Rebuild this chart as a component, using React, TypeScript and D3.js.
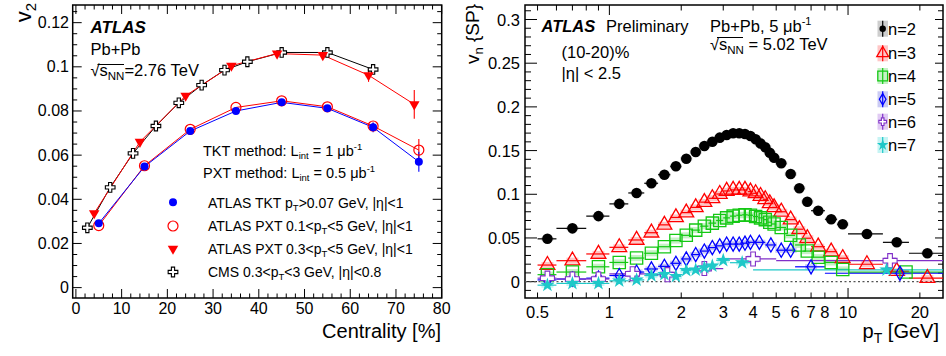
import React from 'react';
import * as d3 from 'd3';

const W = 946, H = 356;
const FONT = '"Liberation Sans", Arial, Helvetica, sans-serif';

// ---------- Left panel data ----------
const cmsCent = [2.5, 7.5, 12.5, 17.5, 22.5, 27.5, 32.5, 37.5, 45, 55, 65];
const cmsV2 = [0.0271, 0.0454, 0.0608, 0.0732, 0.0837, 0.0917, 0.0985, 0.1023, 0.1065, 0.1065, 0.0988];
const tktCent = [5, 15, 25, 35, 45, 55, 65, 75];
const tktV2 = [0.0291, 0.0548, 0.0709, 0.080, 0.0839, 0.0812, 0.0726, 0.057];
const tktErr = [0, 0, 0, 0, 0, 0, 0.0022, 0.0045];
const pxt01Cent = [5, 15, 25, 35, 45, 55, 65, 75];
const pxt01V2 = [0.0281, 0.0552, 0.0717, 0.0816, 0.0846, 0.0819, 0.0732, 0.0623];
const pxt01Err = [0, 0, 0, 0, 0, 0, 0.0015, 0.005];
const pxt03Cent = [4, 14, 24, 34, 44, 54, 64, 74];
const pxt03V2 = [0.0337, 0.066, 0.0869, 0.1005, 0.106, 0.1053, 0.0962, 0.083];
const pxt03Err = [0, 0, 0, 0, 0.001, 0.0012, 0.003, 0.0065];

const leftXTicks = [0, 10, 20, 30, 40, 50, 60, 70, 80];
const leftYTicks = [0, 0.02, 0.04, 0.06, 0.08, 0.1, 0.12];
const leftYTickLabels = ['0', '0.02', '0.04', '0.06', '0.08', '0.1', '0.12'];

// ---------- Right panel data (pT bin edges and values) ----------
const n2Edges = [0.5, 0.6, 0.8, 1.0, 1.2, 1.4, 1.6, 1.8, 2.0, 2.2, 2.4, 2.6, 2.8, 3.0, 3.2, 3.4, 3.6, 3.8, 4.0, 4.2, 4.4, 4.6, 4.8, 5.0, 5.5, 6.0, 6.5, 7.0, 8.0, 9.0, 10, 14, 18, 25];
const n2Vals = [0.049, 0.061, 0.075, 0.089, 0.1015, 0.1126, 0.1224, 0.132, 0.1407, 0.1484, 0.1553, 0.160, 0.1648, 0.1678, 0.1698, 0.1698, 0.169, 0.1667, 0.163, 0.158, 0.1538, 0.1476, 0.1419, 0.1355, 0.1232, 0.107, 0.0915, 0.0812, 0.0714, 0.0657, 0.0546, 0.045, 0.0325];
const n3Edges = n2Edges;
const n3Vals = [0.019, 0.024, 0.0317, 0.0393, 0.0477, 0.056, 0.065, 0.0735, 0.079, 0.085, 0.091, 0.0954, 0.1003, 0.1038, 0.105, 0.105, 0.105, 0.103, 0.1011, 0.098, 0.0943, 0.0897, 0.085, 0.080, 0.071, 0.060, 0.0497, 0.040, 0.0343, 0.0268, 0.0199, 0.012, 0.004];
const n4Edges = [0.5, 0.6, 0.8, 1.0, 1.2, 1.4, 1.6, 1.8, 2.0, 2.2, 2.4, 2.6, 2.8, 3.0, 3.2, 3.4, 3.6, 3.8, 4.0, 4.2, 4.4, 4.6, 4.8, 5.0, 5.5, 6.0, 6.5, 7.0, 8.0, 9.0, 10, 25];
const n4Vals = [0.008, 0.011, 0.017, 0.022, 0.027, 0.0325, 0.040, 0.047, 0.053, 0.059, 0.0635, 0.067, 0.070, 0.073, 0.075, 0.076, 0.0765, 0.076, 0.0745, 0.073, 0.071, 0.068, 0.066, 0.062, 0.053, 0.042, 0.035, 0.028, 0.022, 0.014, 0.011];
const n5Edges = [0.5, 0.6, 0.8, 1.0, 1.2, 1.4, 1.6, 1.8, 2.0, 2.2, 2.4, 2.6, 2.8, 3.0, 3.2, 3.4, 3.6, 3.8, 4.0, 4.5, 5.0, 5.5, 6.0, 8.0, 25];
const n5Vals = [0.002, 0.003, 0.004, 0.007, 0.011, 0.0145, 0.0175, 0.021, 0.026, 0.031, 0.035, 0.039, 0.041, 0.043, 0.043, 0.043, 0.044, 0.045, 0.045, 0.042, 0.036, 0.036, 0.017, 0.0096];
const n6Edges = [0.5, 0.6, 0.8, 1.0, 1.5, 2.0, 3.0, 5.0, 25];
const n6Vals = [0.004, 0.003, 0.003, 0.009, 0.008, 0.015, 0.026, 0.024];
const n7Edges = [0.5, 0.6, 0.8, 1.0, 1.2, 1.4, 1.6, 1.8, 2.0, 2.2, 2.4, 2.6, 2.8, 3.2, 4.0, 25];
const n7Vals = [-0.004, -0.002, -0.002, 0.001, 0.002, 0.007, 0.0085, 0.006, 0.013, 0.0135, 0.016, 0.018, 0.0245, 0.0217, 0.0134];

const rightXTicksLabeled = [0.5, 1, 2, 3, 4, 5, 6, 7, 8, 10, 20];
const rightXTickLabels = ['0.5', '1', '2', '3', '4', '5', '6', '7', '8', '10', '20'];
const rightYTicks = [0, 0.05, 0.1, 0.15, 0.2, 0.25, 0.3];
const rightYTickLabels = ['0', '0.05', '0.1', '0.15', '0.2', '0.25', '0.3'];
const harmonicLabels = ['n=2', 'n=3', 'n=4', 'n=5', 'n=6', 'n=7'];

// ---------- Geometry ----------
const L = { x0: 72.7, x1: 441.7, y0: 5, y1: 298 };
const R = { x0: 525, x1: 943, y0: 5, y1: 298 };

const xL = d3.scaleLinear().domain([-0.7, 80]).range([L.x0, L.x1]);
const yL = d3.scaleLinear().domain([-0.0047, 0.128]).range([L.y1, L.y0]);
const xR = d3.scaleLog().domain([0.443, 25]).range([R.x0, R.x1]);
const yR = d3.scaleLinear().domain([-0.0187, 0.3166]).range([R.y1, R.y0]);

function sym(type: any, size: number) {
  return d3.symbol().type(type).size(size)() as string;
}

type MarkerKind = 'circle' | 'ocircle' | 'tridown' | 'ocross' | 'otri' | 'osquare' | 'odiamond' | 'star';

function Marker({ kind, x, y, color, s = 1 }: { kind: MarkerKind; x: number; y: number; color: string; s?: number }) {
  const t = `translate(${x},${y})`;
  switch (kind) {
    case 'circle':
      return <circle cx={x} cy={y} r={4 * s} fill={color} />;
    case 'ocircle':
      return <circle cx={x} cy={y} r={5 * s} fill="none" stroke={color} strokeWidth={1.2} />;
    case 'tridown':
      return <path d={sym(d3.symbolTriangle, 48 * s * s)} transform={`${t} rotate(180)`} fill={color} />;
    case 'ocross':
      return <path d={sym(d3.symbolCross, 52 * s * s)} transform={t} fill="white" stroke={color} strokeWidth={1.1} />;
    case 'otri':
      return <path d={sym(d3.symbolTriangle, 95 * s * s)} transform={t} fill="none" stroke={color} strokeWidth={1.3} />;
    case 'osquare':
      return <path d={sym(d3.symbolSquare, 150 * s * s)} transform={t} fill="none" stroke={color} strokeWidth={1.3} />;
    case 'odiamond':
      return <path d={sym(d3.symbolDiamond, 58 * s * s)} transform={t} fill="none" stroke={color} strokeWidth={1.3} />;
    case 'star':
      return <path d={sym(d3.symbolStar, 65 * s * s)} transform={t} fill={color} />;
  }
  return null;
}

function LeftPanel() {
  const line = d3.line<[number, number]>().x(d => xL(d[0])).y(d => yL(d[1]));
  const series = [
    { c: cmsCent, v: cmsV2, e: null as number[] | null, color: 'black', kind: 'ocross' as MarkerKind },
    { c: pxt01Cent, v: pxt01V2, e: pxt01Err, color: '#ff0000', kind: 'ocircle' as MarkerKind },
    { c: tktCent, v: tktV2, e: tktErr, color: '#0000ff', kind: 'circle' as MarkerKind },
    { c: pxt03Cent, v: pxt03V2, e: pxt03Err, color: '#ff0000', kind: 'tridown' as MarkerKind },
  ];
  const xMinor = d3.range(0, 81, 2);
  const yMinor = d3.range(0, 0.1251, 0.005);
  return (
    <g>
      {xMinor.map((t, i) => {
        const major = Math.abs(t % 10) < 1e-9;
        const len = major ? 9 : 4.5;
        return (
          <g key={'xt' + i}>
            <line x1={xL(t)} x2={xL(t)} y1={L.y1} y2={L.y1 - len} stroke="black" />
            <line x1={xL(t)} x2={xL(t)} y1={L.y0} y2={L.y0 + len} stroke="black" />
          </g>
        );
      })}
      {yMinor.map((t, i) => {
        const major = i % 4 === 0;
        const len = major ? 9 : 4.5;
        return (
          <g key={'yt' + i}>
            <line x1={L.x0} x2={L.x0 + len} y1={yL(t)} y2={yL(t)} stroke="black" />
            <line x1={L.x1} x2={L.x1 - len} y1={yL(t)} y2={yL(t)} stroke="black" />
          </g>
        );
      })}
      <rect x={L.x0} y={L.y0} width={L.x1 - L.x0} height={L.y1 - L.y0} fill="none" stroke="black" strokeWidth={1.5} />
      {leftXTicks.map(t => (
        <text key={'xl' + t} x={xL(t)} y={314} textAnchor="middle" fontSize={16}>{t}</text>
      ))}
      {leftYTicks.map((t, i) => (
        <text key={'yl' + t} x={69} y={yL(t) + 5.5} textAnchor="end" fontSize={16}>{leftYTickLabels[i]}</text>
      ))}
      <text x={441} y={338} textAnchor="end" fontSize={20}>Centrality [%]</text>
      <text transform="translate(31,3) rotate(-90)" textAnchor="end" fontSize={22}>
        v<tspan fontSize={15} dy={5}>2</tspan>
      </text>
      {series.map((s, k) => (
        <path key={'ln' + k} d={line(s.c.map((c, i) => [c, s.v[i]]) as [number, number][]) || ''} fill="none" stroke={s.color} strokeWidth={1} />
      ))}
      {series.map((s, k) =>
        s.e ? s.e.map((e, i) => e > 0 ? (
          <line key={'eb' + k + '-' + i} x1={xL(s.c[i])} x2={xL(s.c[i])} y1={yL(s.v[i] - e)} y2={yL(s.v[i] + e)} stroke={s.color} strokeWidth={1.1} />
        ) : null) : null
      )}
      {series.map((s, k) =>
        s.c.map((c, i) => <Marker key={'mk' + k + '-' + i} kind={s.kind} x={xL(c)} y={yL(s.v[i])} color={s.color} />)
      )}
      <text x={90.5} y={32.5} fontSize={17} fontWeight="bold" fontStyle="italic">ATLAS</text>
      <text x={90.5} y={54.5} fontSize={16.5}>Pb+Pb</text>
      <text x={90.5} y={76} fontSize={16.5}>
        √s<tspan fontSize={11.5} dy={4}>NN</tspan><tspan dy={-4}>=2.76 TeV</tspan>
      </text>
      <line x1={97.5} x2={124} y1={64.5} y2={64.5} stroke="black" strokeWidth={1} />
      <text x={203} y={156} fontSize={14.5}>
        TKT method: L<tspan fontSize={9.5} dy={3}>int</tspan><tspan dy={-3}> = 1 μb</tspan><tspan fontSize={9.5} dy={-6}>-1</tspan>
      </text>
      <text x={203} y={178} fontSize={14.5}>
        PXT method: L<tspan fontSize={9.5} dy={3}>int</tspan><tspan dy={-3}> = 0.5 μb</tspan><tspan fontSize={9.5} dy={-6}>-1</tspan>
      </text>
      <Marker kind="circle" x={173} y={202.3} color="#0000ff" />
      <Marker kind="ocircle" x={173} y={226} color="#ff0000" />
      <Marker kind="tridown" x={173} y={248.7} color="#ff0000" />
      <Marker kind="ocross" x={173} y={272} color="black" />
      <text x={208} y={207.5} fontSize={14}>ATLAS TKT p<tspan fontSize={9.5} dy={3}>T</tspan><tspan dy={-3}>&gt;0.07 GeV, |η|&lt;1</tspan></text>
      <text x={208} y={231} fontSize={14}>ATLAS PXT 0.1&lt;p<tspan fontSize={9.5} dy={3}>T</tspan><tspan dy={-3}>&lt;5 GeV, |η|&lt;1</tspan></text>
      <text x={208} y={254} fontSize={14}>ATLAS PXT 0.3&lt;p<tspan fontSize={9.5} dy={3}>T</tspan><tspan dy={-3}>&lt;5 GeV, |η|&lt;1</tspan></text>
      <text x={208} y={277} fontSize={14}>CMS 0.3&lt;p<tspan fontSize={9.5} dy={3}>T</tspan><tspan dy={-3}>&lt;3 GeV, |η|&lt;0.8</tspan></text>
    </g>
  );
}

function RightPanel() {
  const series = [
    { edges: n2Edges, vals: n2Vals, color: 'black', box: '#bdbdbd', kind: 'circle' as MarkerKind, s: 1.32, sys: 0.002 },
    { edges: n3Edges, vals: n3Vals, color: '#ff0000', box: '#ffb3b3', kind: 'otri' as MarkerKind, s: 1, sys: 0.0035 },
    { edges: n4Edges, vals: n4Vals, color: '#14c814', box: '#b3ecb3', kind: 'osquare' as MarkerKind, s: 1, sys: 0.0035 },
    { edges: n5Edges, vals: n5Vals, color: '#0000ff', box: '#b9b9f0', kind: 'odiamond' as MarkerKind, s: 1, sys: 0.003 },
    { edges: n6Edges, vals: n6Vals, color: '#8030c8', box: '#d7b9f0', kind: 'ocross' as MarkerKind, s: 1.45, sys: 0.004 },
    { edges: n7Edges, vals: n7Vals, color: '#1ec8c8', box: '#b3f0f0', kind: 'star' as MarkerKind, s: 1, sys: 0.003 },
  ];
  const pts = series.map(s => s.vals.map((v, i) => ({ lo: s.edges[i], hi: s.edges[i + 1], c: (s.edges[i] + s.edges[i + 1]) / 2, v })));
  const minorX: number[] = [];
  [0.1, 1, 10].forEach(dec => { for (let k = 1; k < 10; k++) { const v = k * dec; if (v >= 0.443 && v <= 25) minorX.push(v); } });
  const minorY = d3.range(-0.01, 0.3101, 0.01);
  const legendY = [28.7, 53.3, 76, 99.3, 121.7, 145];
  return (
    <g>
      {minorX.map((t, i) => {
        const major = Math.abs(Math.log10(t) - Math.round(Math.log10(t))) < 1e-9;
        const len = major ? 10 : 5.5;
        return (
          <g key={'rxt' + i}>
            <line x1={xR(t)} x2={xR(t)} y1={R.y1} y2={R.y1 - len} stroke="black" />
            <line x1={xR(t)} x2={xR(t)} y1={R.y0} y2={R.y0 + len} stroke="black" />
          </g>
        );
      })}
      {minorY.map((t, i) => {
        const major = Math.abs(Math.round(t * 100) % 5) === 0;
        return (
          <g key={'ryt' + i}>
            <line x1={R.x0} x2={R.x0 + (major ? 12 : 6)} y1={yR(t)} y2={yR(t)} stroke="black" />
            <line x1={R.x1} x2={R.x1 - (major ? 8 : 5)} y1={yR(t)} y2={yR(t)} stroke="black" />
          </g>
        );
      })}
      <rect x={R.x0} y={R.y0} width={R.x1 - R.x0} height={R.y1 - R.y0} fill="none" stroke="black" strokeWidth={1.5} />
      {rightXTicksLabeled.map((t, i) => (
        <text key={'rxl' + i} x={xR(t)} y={318} textAnchor="middle" fontSize={16.5}>{rightXTickLabels[i]}</text>
      ))}
      {rightYTicks.map((t, i) => (
        <text key={'ryl' + i} x={520} y={yR(t) + 6} textAnchor="end" fontSize={16.5}>{rightYTickLabels[i]}</text>
      ))}
      <text x={939} y={338} textAnchor="end" fontSize={20}>
        p<tspan fontSize={14} dy={5}>T</tspan><tspan dy={-5}> [GeV]</tspan>
      </text>
      <text transform="translate(479,4) rotate(-90)" textAnchor="end" fontSize={19}>
        v<tspan fontSize={13} dy={4}>n</tspan><tspan dy={-4}> {'{SP}'}</tspan>
      </text>
      <line x1={R.x0} x2={R.x1} y1={yR(0)} y2={yR(0)} stroke="#555" strokeDasharray="2,2.5" strokeWidth={1.2} />
      {series.map((s, k) => pts[k].map((p, i) => (
        <rect key={'sb' + k + '-' + i} x={xR(p.c) - 6} width={12} y={yR(p.v + s.sys)} height={yR(p.v - s.sys) - yR(p.v + s.sys)} fill={s.box} opacity={0.75} />
      )))}
      {series.map((s, k) => pts[k].map((p, i) => (
        <line key={'hb' + k + '-' + i} x1={xR(p.lo)} x2={Math.min(xR(p.hi), R.x1)} y1={yR(p.v)} y2={yR(p.v)} stroke={s.color} strokeWidth={1.2} />
      )))}
      {series.map((s, k) => pts[k].map((p, i) => (
        <Marker key={'rm' + k + '-' + i} kind={s.kind} x={xR(p.c)} y={yR(p.v)} color={s.color} s={s.s} />
      )))}
      <text x={541.5} y={31.5} fontSize={16.5} fontWeight="bold" fontStyle="italic">ATLAS</text>
      <text x={606} y={31.5} fontSize={16.5}>Preliminary</text>
      <text x={561.5} y={58} fontSize={16.5}>(10-20)%</text>
      <text x={561.5} y={79} fontSize={16.5}>|η| &lt; 2.5</text>
      <text x={710} y={31.5} fontSize={16.5}>
        Pb+Pb, 5 μb<tspan fontSize={11} dy={-7}>-1</tspan>
      </text>
      <text x={710} y={50} fontSize={16.5}>
        √s<tspan fontSize={11.5} dy={4}>NN</tspan><tspan dy={-4}> = 5.02 TeV</tspan>
      </text>
      <line x1={717} x2={743} y1={37.5} y2={37.5} stroke="black" strokeWidth={1} />
      {series.map((s, k) => (
        <g key={'lg' + k}>
          <rect x={877.5} y={legendY[k] - 8} width={10.5} height={16} fill={s.box} opacity={0.75} />
          <line x1={882.7} x2={882.7} y1={legendY[k] - 8} y2={legendY[k] + 8} stroke={s.color} strokeWidth={1.2} />
          <Marker kind={s.kind} x={882.7} y={legendY[k]} color={s.color} s={0.8} />
          <text x={888} y={legendY[k] + 6} fontSize={16.5}>{harmonicLabels[k]}</text>
        </g>
      ))}
    </g>
  );
}

export default function App() {
  return (
    <svg width={W} height={H} style={{ position: 'absolute', left: 0, top: 0, background: 'white' }} fontFamily={FONT}>
      <rect x={0} y={0} width={W} height={H} fill="white" />
      <LeftPanel />
      <RightPanel />
    </svg>
  );
}
